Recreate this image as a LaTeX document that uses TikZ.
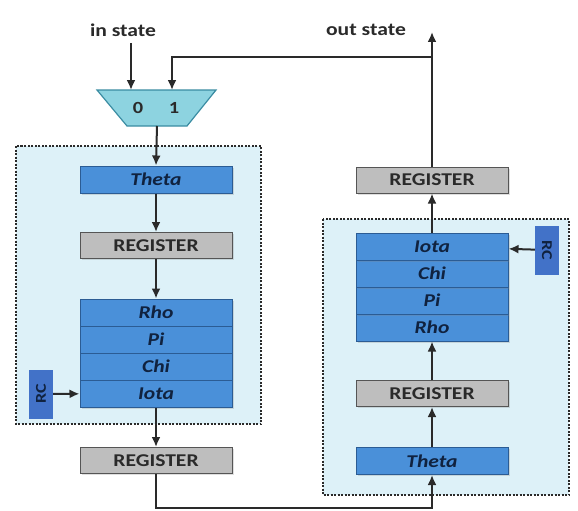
\documentclass[tikz,border=0pt]{standalone}
\usepackage{fontspec}
\setmainfont[FakeStretch=1.2]{Carlito}
\usetikzlibrary{arrows.meta,shadows}
\definecolor{blkfill}{HTML}{4A90D9}
\definecolor{blkdraw}{HTML}{2B5C94}
\definecolor{blktext}{HTML}{10223F}
\definecolor{regfill}{HTML}{BEBEBE}
\definecolor{regdraw}{HTML}{555555}
\definecolor{zonefill}{HTML}{DDF1F8}
\definecolor{muxfill}{HTML}{8DD3E0}
\definecolor{muxdraw}{HTML}{3A8CA2}
\definecolor{rcfill}{HTML}{4272C8}
\definecolor{wire}{HTML}{2A2A2A}
\tikzset{
  shad/.style={drop shadow={shadow xshift=1.5pt, shadow yshift=-1.5pt, opacity=0.25}},
  blk/.style={draw=blkdraw, line width=1pt, fill=blkfill, minimum width=152pt, minimum height=27pt, inner sep=0pt, text=blktext, font=\fontsize{18}{20}\selectfont\bfseries\itshape},
  regbox/.style={shad, draw=regdraw, line width=1pt, fill=regfill, minimum width=152pt, minimum height=26pt, inner sep=0pt, text=wire, font=\fontsize{18}{20}\selectfont\bfseries},
  rcbox/.style={fill=rcfill, minimum width=24pt, minimum height=49pt, inner sep=0pt},
  zone/.style={draw=wire, fill=zonefill, line width=1.5pt, dash pattern=on 2pt off 1.5pt},
  wireline/.style={draw=wire, line width=2pt},
  arr/.style={wireline, -{Latex[length=10pt,width=9pt]}},
  lbl/.style={text=wire, font=\fontsize{18}{20}\selectfont\bfseries, inner sep=0pt},
}
\begin{document}
\begin{tikzpicture}[x=1pt,y=-1pt]
\useasboundingbox (0,0) rectangle (578,511);
% zones
\draw[zone] (16,146) rectangle (261,424);
\draw[zone] (323,219) rectangle (569,495);
% mux
\draw[fill=muxfill, draw=muxdraw, line width=1.2pt] (97,90) -- (216,90) -- (187,126) -- (127,126) -- cycle;
\coordinate (m0) at (131,90);
\coordinate (m1) at (172,90);
\coordinate (mout) at (157,126);
\node[lbl, font=\fontsize{17}{19}\selectfont\bfseries] (zero) at (138,108) {0};
\node[lbl, font=\fontsize{17}{19}\selectfont\bfseries] (one) at (174,108) {1};
% labels
\node[lbl] (instate) at (123,30) {in state};
\node[lbl] (outstate) at (366,30) {out state};
\coordinate (inS) at (131,43);
\coordinate (outE) at (432,32);
\coordinate (fb) at (432,57);
% left column
\node[blk, shad] (theta1) at (156,179.5) {Theta};
\node[regbox] (reg1) at (156,245.5) {REGISTER};
\node[blk, shad] (rho1) at (156,312.5) {Rho};
\node[blk, shad] (pi1) at (156,339.5) {Pi};
\node[blk, shad] (chi1) at (156,366.5) {Chi};
\node[blk, shad] (iota1) at (156,393.5) {Iota};
\node[rcbox] (rc1) at (41,394) {};
\node[text=blktext, font=\fontsize{15}{17}\selectfont\bfseries, rotate=90] (rc1t) at (rc1.center) {RC};
\node[regbox] (reg2) at (156,460.5) {REGISTER};
% right column
\node[regbox] (reg3) at (432,180) {REGISTER};
\node[blk, shad] (rho2) at (432,327.5) {Rho};
\node[blk, shad] (pi2) at (432,300.5) {Pi};
\node[blk, shad] (chi2) at (432,273.5) {Chi};
\node[blk, shad] (iota2) at (432,246.5) {Iota};
\node[rcbox] (rc2) at (547,250) {};
\node[text=blktext, font=\fontsize{15}{17}\selectfont\bfseries, rotate=-90] (rc2t) at (rc2.center) {RC};
\node[regbox] (reg4) at (432,393.5) {REGISTER};
\node[blk, shad] (theta2) at (432,461) {Theta};
\coordinate (bot) at (156,508);
% connectors
\draw[arr] (inS) -- (m0);
\draw[arr] (fb) -| (m1);
\draw[arr] (mout) -- (theta1.north);
\draw[arr] (theta1) -- (reg1);
\draw[arr] (reg1) -- (rho1);
\draw[arr] (iota1) -- (reg2);
\draw[arr] (rc1) -- (iota1);
\draw[arr] (reg2.south) -- (bot) -| (theta2.south);
\draw[arr] (theta2) -- (reg4);
\draw[arr] (reg4) -- (rho2);
\draw[arr] (iota2) -- (reg3);
\draw[arr] (rc2) -- (iota2);
\draw[arr] (reg3.north) -- (outE);
\end{tikzpicture}
\end{document}
